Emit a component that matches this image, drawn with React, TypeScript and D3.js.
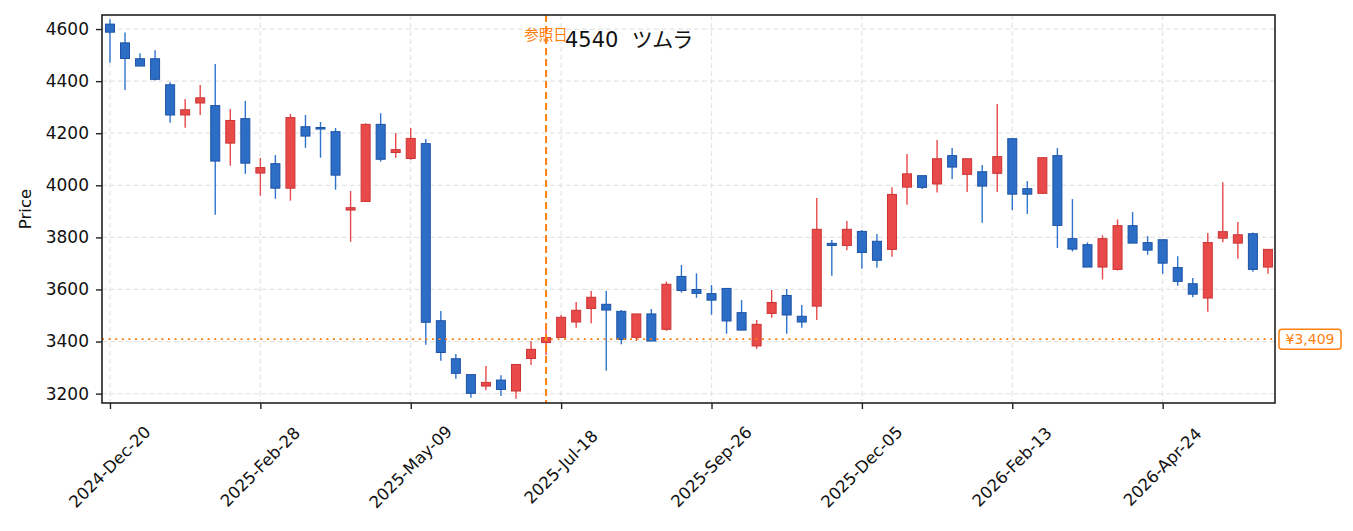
import React, { useEffect, useRef } from 'react';
import * as d3 from 'd3';

// weekly candles, first week ending 2024-12-20
const startDate = '2024-12-20';
const opens = [
  4619, 4547, 4486, 4486, 4386, 4270, 4316, 4306, 4162, 4256, 4047, 4083, 3989, 4225, 4222, 4206, 3905, 3938, 4234, 4126,
  4103, 4160, 3480, 3334, 3273, 3229, 3252, 3210, 3335, 3396, 3416, 3475, 3527, 3543, 3516, 3416, 3506, 3447, 3650, 3600,
  3584, 3604, 3511, 3383, 3508, 3577, 3497, 3536, 3777, 3769, 3823, 3785, 3754, 3993, 4037, 4005, 4114, 4042, 4052, 4046,
  4179, 3987, 3969, 4114, 3795, 3772, 3686, 3677, 3845, 3780, 3791, 3684, 3622, 3567, 3797, 3778, 3814, 3686,
];
const highs = [
  4638, 4587, 4507, 4519, 4396, 4331, 4385, 4466, 4293, 4324, 4105, 4116, 4274, 4270, 4243, 4220, 3978, 4238, 4277, 4201,
  4220, 4178, 3517, 3352, 3273, 3306, 3271, 3312, 3402, 3457, 3502, 3552, 3594, 3594, 3521, 3506, 3525, 3630, 3694, 3662,
  3617, 3604, 3559, 3483, 3598, 3602, 3540, 3951, 3790, 3863, 3828, 3813, 3993, 4120, 4037, 4174, 4143, 4102, 4078, 4312,
  4179, 4016, 4106, 4143, 3947, 3781, 3808, 3869, 3897, 3805, 3791, 3728, 3644, 3817, 4012, 3859, 3819, 3754,
];
const lows = [
  4471, 4366, 4458, 4402, 4240, 4221, 4270, 3887, 4075, 4044, 3960, 3948, 3941, 4144, 4106, 3983, 3783, 3938, 4091, 4106,
  4098, 3388, 3326, 3257, 3184, 3213, 3191, 3180, 3310, 3348, 3416, 3453, 3470, 3288, 3390, 3402, 3402, 3441, 3588, 3568,
  3503, 3430, 3444, 3372, 3492, 3430, 3453, 3483, 3653, 3751, 3680, 3683, 3726, 3925, 3986, 3972, 4024, 3974, 3856, 3974,
  3905, 3890, 3969, 3759, 3746, 3686, 3638, 3673, 3778, 3733, 3660, 3614, 3570, 3514, 3781, 3718, 3668, 3660,
];
const closes = [
  4588, 4487, 4458, 4407, 4270, 4290, 4336, 4093, 4249, 4085, 4068, 3989, 4260, 4189, 4216, 4039, 3914, 4234, 4100, 4137,
  4180, 3474, 3358, 3278, 3201, 3243, 3216, 3312, 3370, 3415, 3493, 3520, 3570, 3521, 3408, 3506, 3402, 3620, 3596, 3585,
  3559, 3479, 3444, 3466, 3550, 3502, 3475, 3831, 3769, 3831, 3742, 3712, 3965, 4044, 3992, 4102, 4070, 4102, 3997, 4110,
  3966, 3966, 4106, 3846, 3755, 3686, 3795, 3845, 3778, 3751, 3701, 3631, 3582, 3780, 3822, 3810, 3677, 3754,
];
const yTicks = [3200, 3400, 3600, 3800, 4000, 4200, 4400, 4600];
const xTickIndex = [0, 10, 20, 30, 40, 50, 60, 70];
const refIndex = 29;
const refPrice = 3409;
const title = '4540  ツムラ';

const W = 1353;
const H = 531;
const FONT = '"DejaVu Sans", "Noto Sans CJK JP", sans-serif';
const ORANGE = '#ff7f0e';

const App: React.FC = () => {
  const svgRef = useRef<SVGSVGElement>(null);

  useEffect(() => {
    if (!svgRef.current) return;
    const svg = d3.select(svgRef.current);
    svg.selectAll('*').remove();

    const margin = { top: 15, right: 78, bottom: 128, left: 102 };
    const width = W - margin.left - margin.right;
    const height = H - margin.top - margin.bottom;

    const parse = d3.timeParse('%Y-%m-%d');
    const fmt = d3.timeFormat('%Y-%b-%d');
    const start = parse(startDate) as Date;
    const data = opens.map((o, i) => ({
      i,
      date: d3.timeDay.offset(start, 7 * i),
      o, h: highs[i], l: lows[i], c: closes[i],
    }));

    const x = d3.scaleLinear().domain([-0.53, data.length - 0.53]).range([0, width]);
    const y = d3.scaleLinear().domain([3164, 4654]).range([height, 0]);

    const g = svg.append('g').attr('transform', `translate(${margin.left},${margin.top})`);

    // grid
    g.selectAll('.gx').data(xTickIndex).enter().append('line')
      .attr('x1', d => x(d)).attr('x2', d => x(d))
      .attr('y1', 0).attr('y2', height)
      .attr('stroke', '#e5e5e5').attr('stroke-width', 1.2).attr('stroke-dasharray', '5,3');
    g.selectAll('.gy').data(yTicks).enter().append('line')
      .attr('x1', 0).attr('x2', width)
      .attr('y1', d => y(d)).attr('y2', d => y(d))
      .attr('stroke', '#e5e5e5').attr('stroke-width', 1.2).attr('stroke-dasharray', '5,3');

    // candles
    const bw = 9;
    const cg = g.selectAll('.candle').data(data).enter().append('g');
    cg.append('line')
      .attr('x1', d => x(d.i)).attr('x2', d => x(d.i))
      .attr('y1', d => y(d.h)).attr('y2', d => y(d.l))
      .attr('stroke', d => (d.c >= d.o ? '#e8494a' : '#2f74cc'))
      .attr('stroke-width', 1.4);
    cg.append('rect')
      .attr('x', d => x(d.i) - bw / 2)
      .attr('y', d => y(Math.max(d.o, d.c)))
      .attr('width', bw)
      .attr('height', d => Math.max(1.5, Math.abs(y(d.o) - y(d.c))))
      .attr('fill', d => (d.c >= d.o ? '#e84a4a' : '#2c6ec6'))
      .attr('stroke', d => (d.c >= d.o ? '#cc3434' : '#1d52a6'))
      .attr('stroke-width', 1);

    // reference price line
    g.append('line')
      .attr('x1', 0).attr('x2', width)
      .attr('y1', y(refPrice)).attr('y2', y(refPrice))
      .attr('stroke', ORANGE).attr('stroke-width', 1.8).attr('stroke-dasharray', '2,4.6');

    // reference date line
    g.append('line')
      .attr('x1', x(refIndex)).attr('x2', x(refIndex))
      .attr('y1', 0).attr('y2', height)
      .attr('stroke', ORANGE).attr('stroke-width', 2).attr('stroke-dasharray', '7,4');
    g.append('text')
      .attr('x', x(refIndex)).attr('y', 25)
      .attr('text-anchor', 'middle')
      .attr('font-family', FONT).attr('font-size', 14.5)
      .attr('fill', ORANGE)
      .text('参照日');

    // title
    g.append('text')
      .attr('x', 463).attr('y', 32)
      .attr('font-family', FONT).attr('font-size', 21)
      .attr('fill', '#111')
      .style('white-space', 'pre')
      .text(title);

    // frame
    g.append('rect')
      .attr('x', 0).attr('y', 0).attr('width', width).attr('height', height)
      .attr('fill', 'none').attr('stroke', '#222').attr('stroke-width', 1.6);

    // y axis
    const ya = g.append('g').call(d3.axisLeft(y).tickValues(yTicks).tickSize(6).tickPadding(7).tickFormat(d3.format('d')));
    ya.select('.domain').remove();
    ya.selectAll('.tick line').attr('stroke', '#222').attr('stroke-width', 1.4);
    ya.selectAll('.tick text').attr('font-family', FONT).attr('font-size', 17).attr('fill', '#111');

    // x axis
    const xa = g.append('g').attr('transform', `translate(0,${height})`)
      .call(d3.axisBottom(x).tickValues(xTickIndex).tickSize(6).tickFormat(() => ''));
    xa.select('.domain').remove();
    xa.selectAll('.tick line').attr('stroke', '#222').attr('stroke-width', 1.4);

    g.selectAll('.xl').data(xTickIndex).enter().append('text')
      .attr('transform', d => `translate(${x(d)},${height + 64}) rotate(-45)`)
      .attr('text-anchor', 'middle')
      .attr('dominant-baseline', 'central')
      .attr('font-family', FONT).attr('font-size', 16.5)
      .attr('fill', '#111')
      .text(d => fmt(data[d].date));

    // y label
    svg.append('text')
      .attr('transform', `translate(31,${margin.top + height / 2}) rotate(-90)`)
      .attr('text-anchor', 'middle')
      .attr('font-family', FONT).attr('font-size', 16.5)
      .attr('fill', '#111')
      .text('Price');

    // price tag
    const tag = svg.append('g').attr('transform', `translate(${margin.left + width + 4},${margin.top + y(refPrice)})`);
    tag.append('rect')
      .attr('x', 0).attr('y', -10).attr('width', 62).attr('height', 20).attr('rx', 3)
      .attr('fill', '#fff').attr('stroke', ORANGE).attr('stroke-width', 1.5);
    tag.append('text')
      .attr('x', 31).attr('y', 0)
      .attr('text-anchor', 'middle').attr('dominant-baseline', 'central')
      .attr('font-family', FONT).attr('font-size', 14)
      .attr('fill', ORANGE)
      .text(`¥${d3.format(',')(refPrice)}`);
  }, []);

  return (
    <svg
      ref={svgRef}
      width={W}
      height={H}
      style={{ position: 'absolute', left: 0, top: 0, background: '#fff' }}
    />
  );
};

export default App;
